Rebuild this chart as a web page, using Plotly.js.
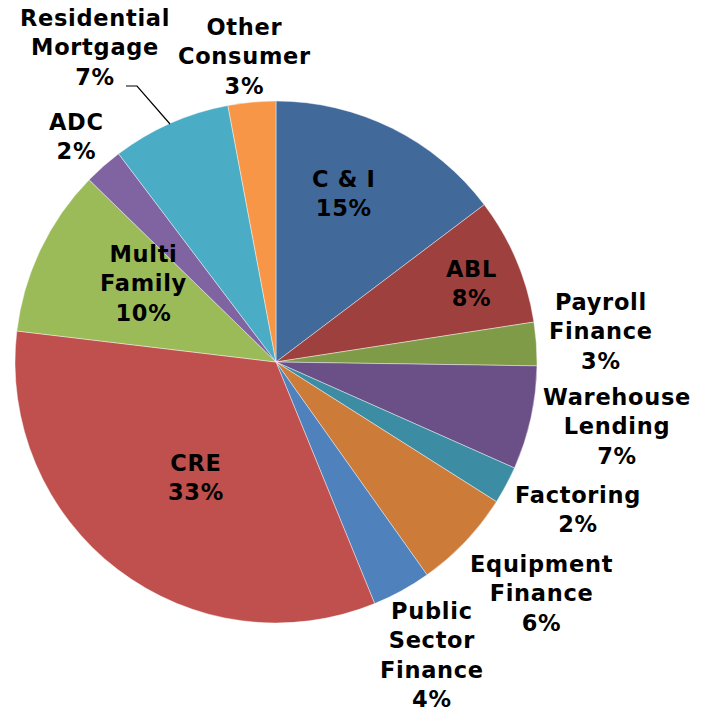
<!DOCTYPE html>
<html>
<head>
<meta charset="utf-8">
<script src="https://cdn.plot.ly/plotly-3.0.1.min.js"></script>
<style>html,body{margin:0;padding:0;background:#fff;}#chart{width:712px;height:714px;}
.annotation-text{letter-spacing:0.7px;}</style>
</head>
<body>
<div id="chart"></div>
<script>
// Slice data, clockwise from 12 o'clock
const categories = ["C & I", "ABL", "Payroll<br>Finance", "Warehouse<br>Lending", "Factoring", "Equipment<br>Finance", "Public<br>Sector<br>Finance", "CRE", "Multi<br>Family", "ADC", "Residential<br>Mortgage", "Other<br>Consumer"];
const values = [14.7, 7.85, 2.68, 6.42, 2.33, 6.19, 3.65, 33.06, 10.4, 2.4, 7.35, 2.95];
const pctLabels = ["15%", "8%", "3%", "7%", "2%", "6%", "4%", "33%", "10%", "2%", "7%", "3%"];
const colors = ["#416A9B", "#9E413E", "#7F9B48", "#6A5087", "#3C8DA3", "#CC7B38", "#4F81BD", "#C0504D", "#9BBB59", "#8064A2", "#4BACC6", "#F79646"];

// label anchor positions in pixels (centers of label blocks)
const labelPos = [[344,194],[472,284],[601,331],[617,426],[578,509],[541,593],[432,655],[196,478],[143,284],[76,136],[95,48],[244,57]];

const W = 712, H = 714;
const annotations = categories.map((c, i) => ({
  text: c + "<br>" + pctLabels[i],
  x: labelPos[i][0] / W, y: 1 - labelPos[i][1] / H,
  xref: "paper", yref: "paper", showarrow: false,
  xanchor: "center", yanchor: "middle", align: "center",
  font: {family: "DejaVu Sans", size: 22.5, color: "#000", weight: "bold"}
}));

const trace = {
  type: "pie",
  labels: categories,
  values: values,
  sort: false,
  direction: "clockwise",
  rotation: 0,
  textinfo: "none",
  hoverinfo: "skip",
  marker: {colors: colors, line: {color: "rgba(255,255,255,0.7)", width: 0.6}},
  domain: {x: [15/W, 537/W], y: [1 - 623/H, 1 - 101/H]},
  showlegend: false
};

const layout = {
  width: W, height: H,
  margin: {l: 0, r: 0, t: 0, b: 0},
  paper_bgcolor: "#fff",
  plot_bgcolor: "#fff",
  showlegend: false,
  annotations: annotations,
  shapes: [{
    type: "path", xref: "paper", yref: "paper",
    path: "M " + (126/W) + " " + (1-86/H) + " L " + (137/W) + " " + (1-86/H) + " L " + (170/W) + " " + (1-124/H),
    line: {color: "#000", width: 1.2}
  }]
};

Plotly.newPlot("chart", [trace], layout, {staticPlot: true, displayModeBar: false});
</script>
</body>
</html>
